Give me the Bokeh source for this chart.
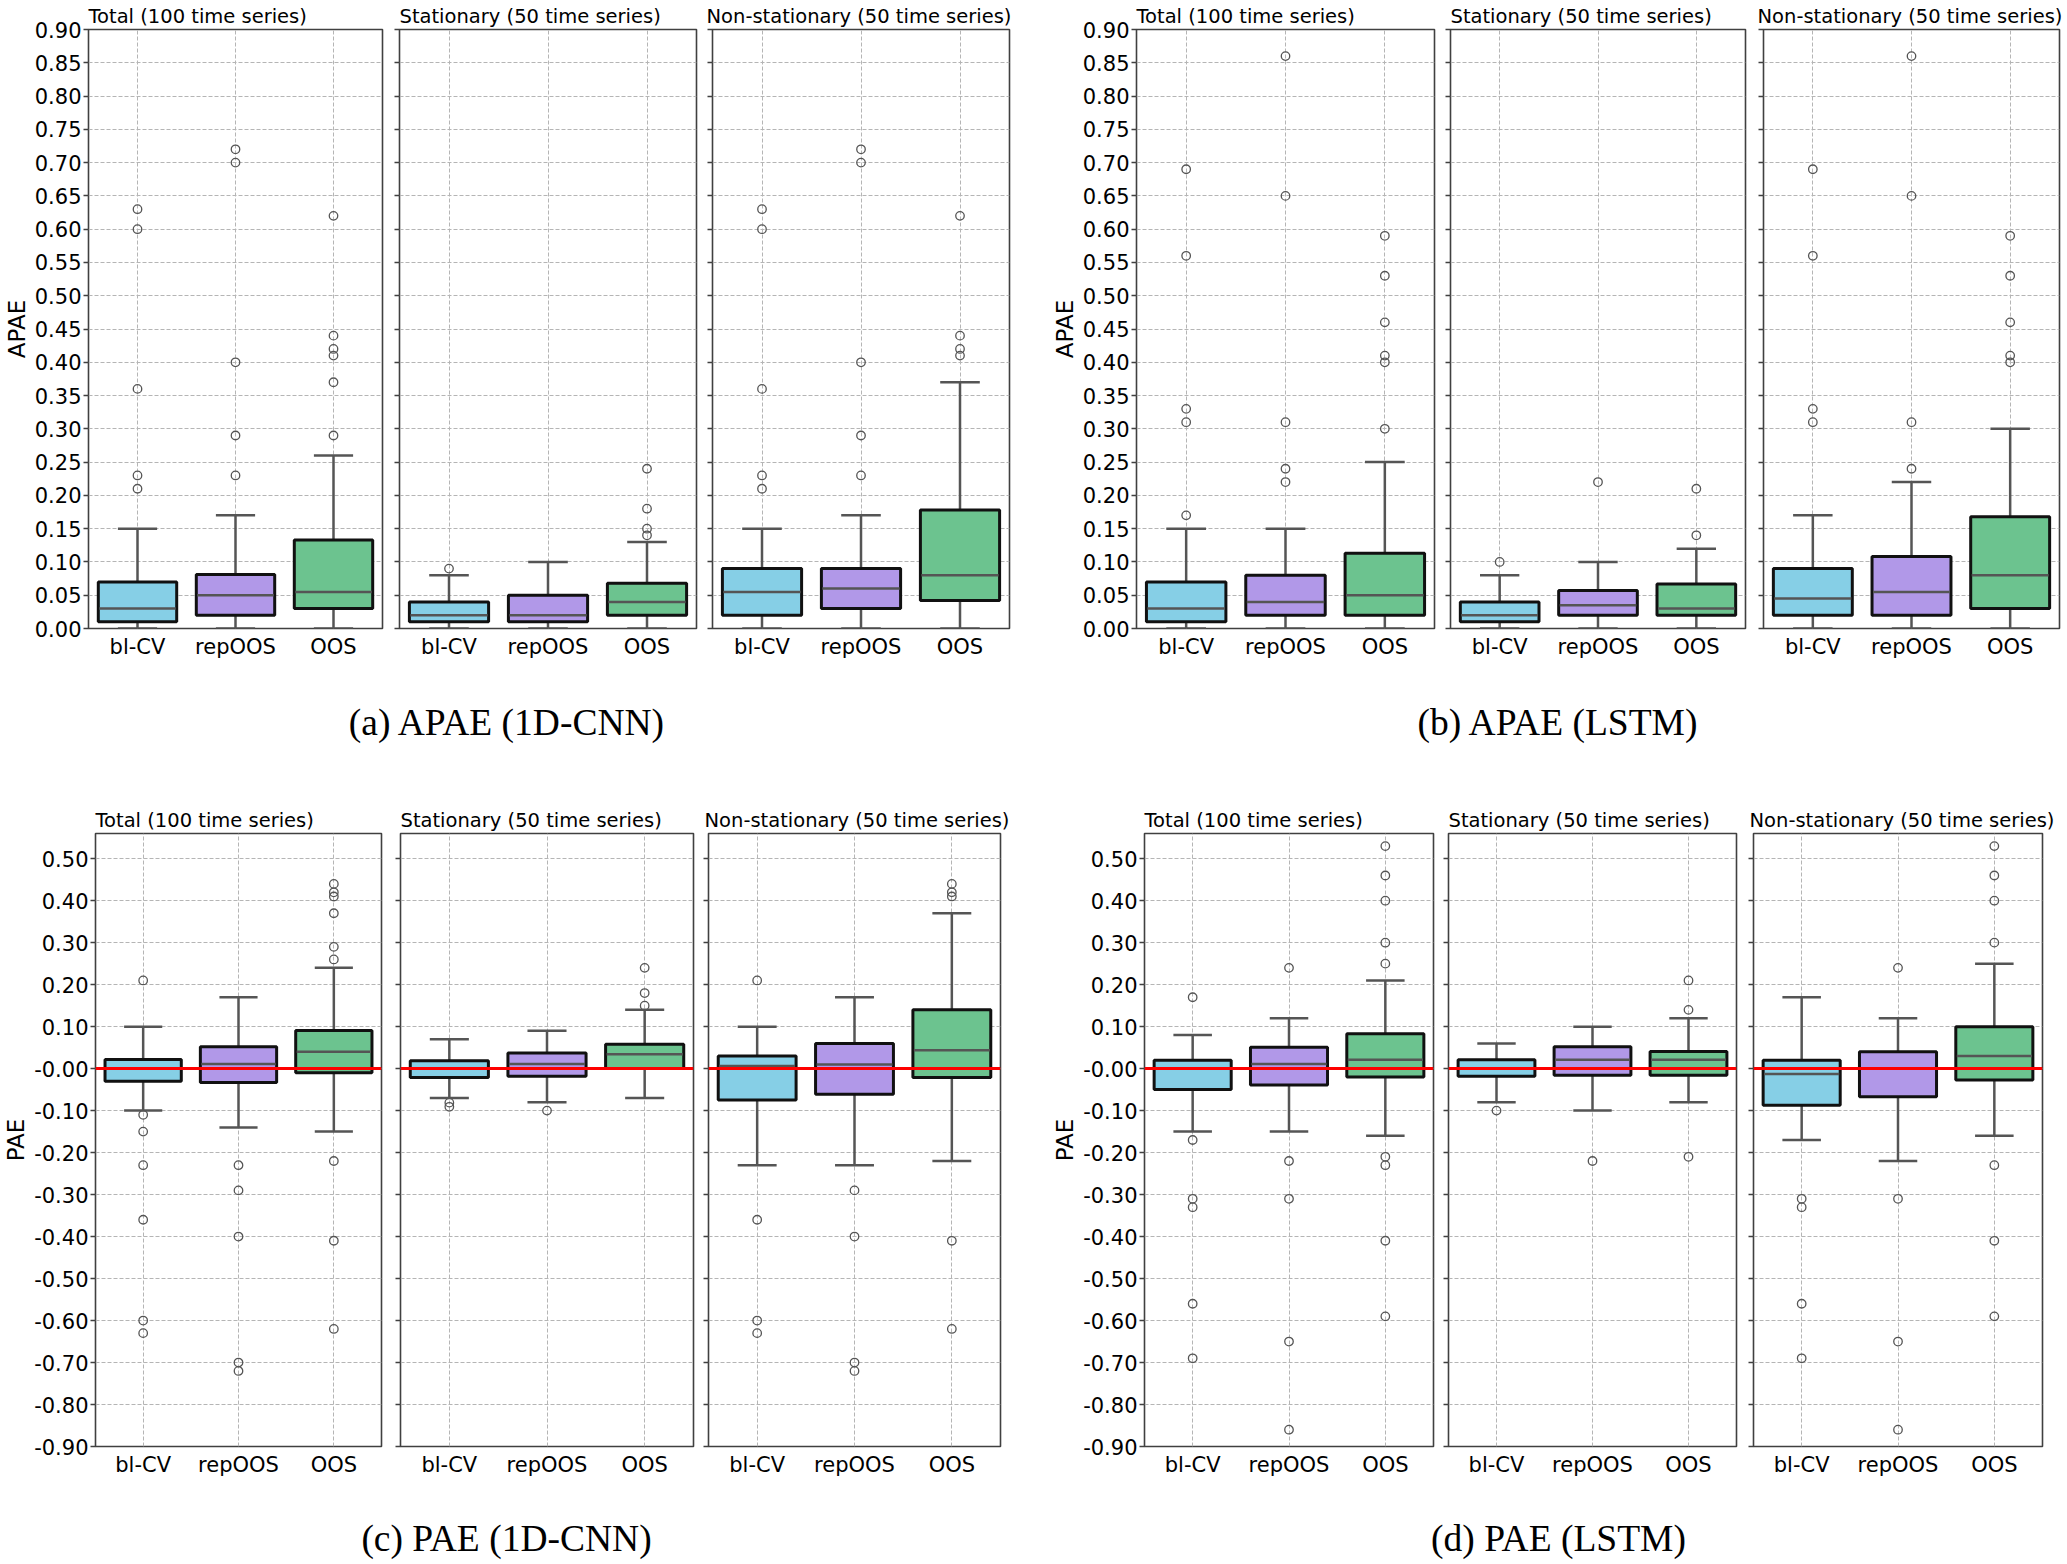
from bokeh.plotting import figure
from bokeh.models import (FactorRange, Range1d, FixedTicker, ColumnDataSource,
                          Span, CustomJSTickFormatter)
from bokeh.layouts import row, column
from bokeh.transform import dodge
from bokeh.embed import file_html
from bokeh.resources import INLINE
from bokeh.core.properties import value

# ---------------- data ----------------
methods = ["bl-CV", "repOOS", "OOS"]
groups = ["Total (100 time series)", "Stationary (50 time series)",
          "Non-stationary (50 time series)"]
captions_top = ["(a) APAE (1D-CNN)", "(b) APAE (LSTM)"]
captions_bottom = ["(c) PAE (1D-CNN)", "(d) PAE (LSTM)"]
box_colors = ["#86CFE6", "#B198E8", "#6CC38F"]

apae_ticks = [0.0, 0.05, 0.1, 0.15, 0.2, 0.25, 0.3, 0.35, 0.4, 0.45, 0.5,
              0.55, 0.6, 0.65, 0.7, 0.75, 0.8, 0.85, 0.9]
pae_ticks = [-0.9, -0.8, -0.7, -0.6, -0.5, -0.4, -0.3, -0.2, -0.1, 0,
             0.1, 0.2, 0.3, 0.4, 0.5]

# rows: Total, Stationary, Non-stationary ; columns: bl-CV, repOOS, OOS
# (a) APAE 1D-CNN
a_q1 = [[0.01, 0.02, 0.03], [0.01, 0.01, 0.02], [0.02, 0.03, 0.042]]
a_med = [[0.03, 0.05, 0.055], [0.02, 0.02, 0.04], [0.055, 0.06, 0.08]]
a_q3 = [[0.07, 0.081, 0.133], [0.04, 0.05, 0.068], [0.09, 0.09, 0.178]]
a_lo = [[0.0, 0.0, 0.0], [0.0, 0.0, 0.0], [0.0, 0.0, 0.0]]
a_hi = [[0.15, 0.17, 0.26], [0.08, 0.10, 0.13], [0.15, 0.17, 0.37]]
a_out = [
    [[0.21, 0.23, 0.36, 0.60, 0.63], [0.23, 0.29, 0.40, 0.70, 0.72],
     [0.29, 0.37, 0.41, 0.42, 0.44, 0.62]],
    [[0.09], [], [0.14, 0.15, 0.18, 0.24]],
    [[0.21, 0.23, 0.36, 0.60, 0.63], [0.23, 0.29, 0.40, 0.70, 0.72],
     [0.41, 0.42, 0.44, 0.62]],
]

# (b) APAE LSTM
b_q1 = [[0.01, 0.02, 0.02], [0.01, 0.02, 0.02], [0.02, 0.02, 0.03]]
b_med = [[0.03, 0.04, 0.05], [0.02, 0.035, 0.03], [0.045, 0.055, 0.08]]
b_q3 = [[0.07, 0.08, 0.113], [0.04, 0.057, 0.067], [0.09, 0.108, 0.168]]
b_lo = [[0.0, 0.0, 0.0], [0.0, 0.0, 0.0], [0.0, 0.0, 0.0]]
b_hi = [[0.15, 0.15, 0.25], [0.08, 0.10, 0.12], [0.17, 0.22, 0.30]]
b_out = [
    [[0.17, 0.31, 0.33, 0.56, 0.69], [0.22, 0.24, 0.31, 0.65, 0.86],
     [0.30, 0.40, 0.41, 0.46, 0.53, 0.59]],
    [[0.10], [0.22], [0.14, 0.21]],
    [[0.31, 0.33, 0.56, 0.69], [0.24, 0.31, 0.65, 0.86],
     [0.40, 0.41, 0.46, 0.53, 0.59]],
]

# (c) PAE 1D-CNN
c_q1 = [[-0.03, -0.033, -0.01], [-0.021, -0.018, 0.0], [-0.075, -0.061, -0.021]]
c_med = [[0.0, 0.011, 0.04], [0.0, 0.011, 0.034], [0.006, 0.01, 0.044]]
c_q3 = [[0.022, 0.052, 0.091], [0.019, 0.037, 0.058], [0.03, 0.06, 0.14]]
c_lo = [[-0.10, -0.14, -0.15], [-0.07, -0.08, -0.07], [-0.23, -0.23, -0.22]]
c_hi = [[0.10, 0.17, 0.24], [0.07, 0.09, 0.14], [0.10, 0.17, 0.37]]
c_out = [
    [[0.21, -0.11, -0.15, -0.23, -0.36, -0.60, -0.63],
     [-0.23, -0.29, -0.40, -0.70, -0.72],
     [0.26, 0.29, 0.37, 0.41, 0.42, 0.44, -0.22, -0.41, -0.62]],
    [[-0.081, -0.091], [-0.10], [0.15, 0.18, 0.24]],
    [[0.21, -0.36, -0.60, -0.63], [-0.29, -0.40, -0.70, -0.72],
     [0.41, 0.42, 0.44, -0.41, -0.62]],
]

# (d) PAE LSTM
d_q1 = [[-0.05, -0.039, -0.02], [-0.018, -0.016, -0.016], [-0.087, -0.067, -0.027]]
d_med = [[0.0, 0.011, 0.021], [0.0, 0.021, 0.021], [-0.013, 0.0, 0.03]]
d_q3 = [[0.02, 0.051, 0.083], [0.021, 0.052, 0.041], [0.02, 0.04, 0.10]]
d_lo = [[-0.15, -0.15, -0.16], [-0.08, -0.10, -0.08], [-0.17, -0.22, -0.16]]
d_hi = [[0.08, 0.12, 0.21], [0.06, 0.10, 0.12], [0.17, 0.12, 0.25]]
d_out = [
    [[0.17, -0.17, -0.31, -0.33, -0.56, -0.69],
     [0.24, -0.22, -0.31, -0.65, -0.86],
     [0.25, 0.30, 0.40, 0.46, 0.53, -0.21, -0.23, -0.41, -0.59]],
    [[-0.10], [-0.22], [0.14, 0.21, -0.21]],
    [[-0.31, -0.33, -0.56, -0.69], [0.24, -0.31, -0.65, -0.86],
     [0.30, 0.40, 0.46, 0.53, -0.23, -0.41, -0.59]],
]

# ---------------- style / layout ----------------
FONT = "DejaVu Sans"
SPINE = "#404040"
WHISK = "#555555"
GRID = "#b5b5b5"

# (left border, frame width, right border, title offset)
row1_spec = [(86, 294, 5, 0), (12, 297, 5, 0), (11, 297, 5, -6),
             (122, 298, 5, 0), (11, 295, 5, 0), (13, 296, 5, -6)]
row2_spec = [(93, 286, 5, 0), (14, 293, 5, 0), (10, 292, 16, -4),
             (128, 289, 5, 0), (10, 288, 5, 0), (12, 289, 20, -4)]
TOTAL_W = 2065


def subplot(stats, gi, yr, ticks, ylabel, first, spec, fh, tb, bb, zero):
    q1, med, q3, lo, hi, out = stats
    bl, fw, br, toff = spec
    p = figure(x_range=FactorRange(factors=methods), y_range=Range1d(*yr),
               frame_width=fw, frame_height=fh,
               min_border_left=bl, min_border_right=br,
               min_border_top=tb, min_border_bottom=bb,
               output_backend="svg", toolbar_location=None,
               title=groups[gi])
    p.title.align = "left"
    p.title.offset = toff
    p.title.standoff = 3
    p.title.text_font = FONT
    p.title.text_font_size = "19.5px"
    p.title.text_font_style = "normal"
    p.title.text_color = "black"

    p.outline_line_color = SPINE
    p.outline_line_width = 1.6
    p.outline_line_alpha = 1.0

    for g in p.grid:
        g.grid_line_color = GRID
        g.grid_line_dash = "4 2"
        g.grid_line_width = 1

    p.yaxis.ticker = FixedTicker(ticks=ticks)
    p.yaxis.axis_line_color = None
    p.yaxis.major_tick_line_color = SPINE
    p.yaxis.major_tick_line_width = 1.5
    p.yaxis.major_tick_out = 5
    p.yaxis.major_tick_in = 0
    p.yaxis.minor_tick_out = 0
    p.yaxis.minor_tick_in = 0
    p.yaxis.major_label_standoff = 2
    p.yaxis.major_label_text_font = FONT
    p.yaxis.major_label_text_font_size = "21px"
    p.yaxis.major_label_text_color = "black"
    if first:
        if zero:
            code = "return Math.abs(tick) < 1e-9 ? '-0.00' : tick.toFixed(2);"
        else:
            code = "return tick.toFixed(2);"
        p.yaxis.formatter = CustomJSTickFormatter(code=code)
        p.yaxis.axis_label = ylabel
        p.yaxis.axis_label_standoff = 2
        p.yaxis.axis_label_text_font = FONT
        p.yaxis.axis_label_text_font_size = "23px"
        p.yaxis.axis_label_text_font_style = "normal"
        p.yaxis.axis_label_text_color = "black"
    else:
        p.yaxis.formatter = CustomJSTickFormatter(code="return '';")

    p.xaxis.axis_line_color = None
    p.xaxis.major_tick_out = 0
    p.xaxis.major_tick_in = 0
    p.xaxis.minor_tick_out = 0
    p.xaxis.major_label_standoff = 6
    p.xaxis.major_label_text_font = FONT
    p.xaxis.major_label_text_font_size = "21px"
    p.xaxis.major_label_text_color = "black"

    src = ColumnDataSource(dict(m=methods, q1=q1[gi], med=med[gi], q3=q3[gi],
                                lo=lo[gi], hi=hi[gi], color=box_colors))
    # whiskers
    p.segment(x0="m", y0="q3", x1="m", y1="hi", source=src,
              line_color=WHISK, line_width=2.5)
    p.segment(x0="m", y0="q1", x1="m", y1="lo", source=src,
              line_color=WHISK, line_width=2.5)
    # boxes
    p.vbar(x="m", width=0.8, top="q3", bottom="q1", source=src,
           fill_color="color", line_color="#111111", line_width=3)
    # medians
    p.segment(x0=dodge("m", -0.39, range=p.x_range), y0="med",
              x1=dodge("m", 0.39, range=p.x_range), y1="med", source=src,
              line_color=WHISK, line_width=2.5)
    # caps
    p.segment(x0=dodge("m", -0.2, range=p.x_range), y0="hi",
              x1=dodge("m", 0.2, range=p.x_range), y1="hi", source=src,
              line_color=WHISK, line_width=2.5)
    p.segment(x0=dodge("m", -0.2, range=p.x_range), y0="lo",
              x1=dodge("m", 0.2, range=p.x_range), y1="lo", source=src,
              line_color=WHISK, line_width=2.5)
    # outliers
    ox, oy = [], []
    for j, m in enumerate(methods):
        for v in out[gi][j]:
            ox.append(m)
            oy.append(v)
    p.scatter(x=ox, y=oy, marker="circle", size=8.5, fill_color=None,
              line_color=WHISK, line_width=1.3)
    if zero:
        p.add_layout(Span(location=0, dimension="width", line_color="#ff0000",
                          line_width=3))
    return p


def caption_fig(height, texts, xs, y):
    p = figure(width=TOTAL_W, height=height, x_range=Range1d(0, TOTAL_W),
               y_range=Range1d(0, height), min_border=0, title=None,
               x_axis_location=None, y_axis_location=None,
               output_backend="svg", toolbar_location=None)
    p.outline_line_color = None
    for g in p.grid:
        g.visible = False
    p.text(x=xs, y=[y] * len(xs), text=texts, text_align="center",
           text_baseline="middle", text_font=value("Liberation Serif"),
           text_font_size="37.5px", text_color="black")
    return p


a_stats = (a_q1, a_med, a_q3, a_lo, a_hi, a_out)
b_stats = (b_q1, b_med, b_q3, b_lo, b_hi, b_out)
c_stats = (c_q1, c_med, c_q3, c_lo, c_hi, c_out)
d_stats = (d_q1, d_med, d_q3, d_lo, d_hi, d_out)

row1 = []
for k, stats in enumerate([a_stats, b_stats]):
    for gi in range(3):
        row1.append(subplot(stats, gi, (0.0, 0.9), apae_ticks, "APAE", gi == 0,
                            row1_spec[3 * k + gi], 599, 29, 40, False))
row2 = []
for k, stats in enumerate([c_stats, d_stats]):
    for gi in range(3):
        row2.append(subplot(stats, gi, (-0.9, 0.56), pae_ticks, "PAE", gi == 0,
                            row2_spec[3 * k + gi], 613, 26, 36, True))

# caption rows: text centred vertically at the given height (px from bottom)
cap1 = caption_fig(137, captions_top, [507, 1558], 83)
cap2 = caption_fig(82, captions_bottom, [506, 1558], 26)

layout = column(row(*row1), cap1, row(*row2), cap2)

open("out.html", "w").write(file_html(layout, INLINE))
